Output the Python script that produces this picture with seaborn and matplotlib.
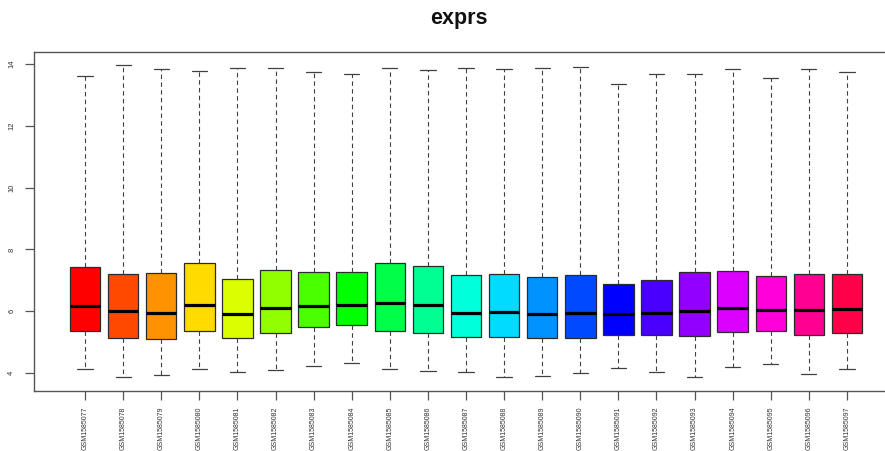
import colorsys
import numpy as np
import pandas as pd
import matplotlib
matplotlib.use("Agg")
import matplotlib.pyplot as plt
import seaborn as sns

# Sample identifiers
samples = [f"GSM15850{n}" for n in range(77, 98)]

# Five-number summaries per sample (whisker low, Q1, median, Q3, whisker high)
whisker_low = [4.12, 3.86, 3.94, 4.14, 4.02, 4.11, 4.23, 4.33, 4.12, 4.07, 4.02,
               3.88, 3.90, 3.99, 4.17, 4.04, 3.86, 4.19, 4.28, 3.96, 4.12]
q1 = [5.37, 5.14, 5.09, 5.36, 5.12, 5.30, 5.48, 5.54, 5.37, 5.30, 5.16,
      5.16, 5.14, 5.15, 5.24, 5.24, 5.20, 5.33, 5.36, 5.24, 5.30]
median = [6.18, 6.02, 5.93, 6.20, 5.90, 6.10, 6.17, 6.20, 6.27, 6.21, 5.96,
          5.99, 5.91, 5.96, 5.90, 5.93, 6.02, 6.10, 6.04, 6.04, 6.08]
q3 = [7.43, 7.21, 7.25, 7.55, 7.06, 7.33, 7.28, 7.28, 7.57, 7.46, 7.19,
      7.21, 7.10, 7.19, 6.89, 7.01, 7.27, 7.30, 7.13, 7.21, 7.21]
whisker_high = [13.62, 13.97, 13.85, 13.78, 13.88, 13.88, 13.75, 13.68, 13.86, 13.80, 13.87,
                13.84, 13.86, 13.92, 13.36, 13.68, 13.67, 13.83, 13.56, 13.85, 13.74]

y_ticks = [4, 6, 8, 10, 12, 14]

# Long-form table: five values per sample reproduce its quartiles and extremes
rows = []
for i, s in enumerate(samples):
    for v in (whisker_low[i], q1[i], median[i], q3[i], whisker_high[i]):
        rows.append((s, v))
df = pd.DataFrame(rows, columns=["sample", "value"])

# Rainbow palette across all samples
n = len(samples)
palette = [colorsys.hsv_to_rgb(i / n, 1.0, 1.0) for i in range(n)]

sns.set_style("white")
plt.rcParams["font.family"] = ["Liberation Sans", "DejaVu Sans"]

fig = plt.figure(figsize=(8.85, 4.51), dpi=100)
ax = fig.add_axes([34 / 885, 60.3 / 451, 864 / 885, 338.7 / 451])

sns.boxplot(
    data=df, x="sample", y="value", hue="sample", palette=palette,
    legend=False, saturation=1, width=0.8, whis=(0, 100),
    linecolor="#2b2b2b", linewidth=0.9, showfliers=False, ax=ax,
    medianprops=dict(color="black", linewidth=2.3),
    whiskerprops=dict(color="#404040", linewidth=0.8, linestyle=(0, (4, 3))),
    capprops=dict(color="#404040", linewidth=0.9),
)

ax.set_xlim(-1.34, n - 1 + 1.34)
ax.set_ylim(3.43, 14.39)
ax.set_xlabel("")
ax.set_ylabel("")

for sp in ax.spines.values():
    sp.set_color("#555555")
    sp.set_linewidth(1.0)

ax.set_yticks(y_ticks)
ax.set_yticklabels([str(t) for t in y_ticks], rotation=90, va="center",
                   fontsize=5.5, color="#333333")
ax.set_xticks(range(n))
ax.set_xticklabels(samples, rotation=90, ha="center", va="top",
                   fontsize=5.0, color="#333333")
ax.tick_params(axis="both", which="both", direction="out", length=6.5,
               width=0.9, color="#555555", left=True, bottom=True)
ax.tick_params(axis="x", pad=5)
ax.tick_params(axis="y", pad=7)

fig.text(459 / 885, 1 - 24 / 451, "exprs", ha="center", va="baseline",
         fontsize=15.5, fontweight="bold", color="#111111")

fig.savefig("out.png", dpi=100)
